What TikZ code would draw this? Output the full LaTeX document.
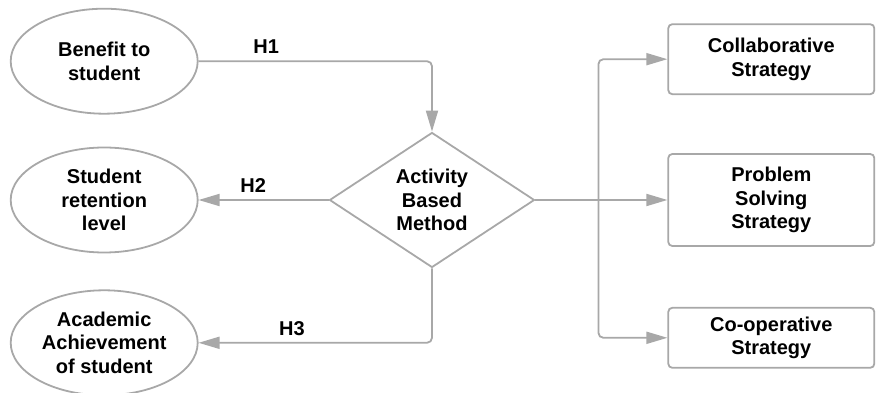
\documentclass[tikz,border=0pt]{standalone}
\usepackage{fontspec}
\setmainfont{Liberation Sans}
\usepackage{tikz}
\usetikzlibrary{shapes.geometric}
\usetikzlibrary{positioning}
\usetikzlibrary{arrows.meta,calc}

\definecolor{linegray}{RGB}{168,168,168}

\begin{document}
\begin{tikzpicture}[%
    x=1pt, y=1pt,
    font=\fontsize{20}{23.5}\selectfont\bfseries,
    >={Triangle[length=21pt,width=12pt]},
    basic/.style={draw=linegray,line width=1.8pt,align=center,inner sep=0pt},
    factor/.style={basic,ellipse,minimum width=187pt,minimum height=105pt},
    method/.style={basic,diamond,aspect=1.5,minimum width=205pt,minimum height=135pt},
    strategy/.style={basic,rectangle,rounded corners=4pt,minimum width=206pt},
    link/.style={draw=linegray,line width=1.8pt,rounded corners=5pt}
]
        \useasboundingbox (-432,-193) rectangle (444,200);

        \node[method] (abm) {Activity\\Based\\Method};

        \node[left = 130pt of abm, factor] (retention) {Student\\retention\\level};
        \node[above = 32pt of retention, factor] (benefit) {Benefit to\\student};
        \node[below = 36pt of retention, factor] (achieve) {Academic\\Achievement\\of student};

        \node[right = 132pt of abm, strategy, minimum height=92pt] (problem) {Problem\\Solving\\Strategy};
        \node[above = 58pt of problem, strategy, minimum height=70pt] (collab) {Collaborative\\Strategy};
        \node[below = 60pt of problem, strategy, minimum height=60pt] (coop) {Co-operative\\Strategy};

        \coordinate[right = 63pt of abm.east] (bus);

        \path [link,->] (benefit.east) -- node[pos=0.29,above=3pt]{H1} (benefit.east -| abm.north) -- (abm.north);
        \path [link,->] (abm.west) -- node[pos=0.58,above=3pt]{H2} (retention.east);
        \path [link,->] (abm.south) -- (abm.south |- achieve.east) -- node[pos=0.6,above=3pt]{H3} (achieve.east);

        \path [link] (abm.east) -- (bus);
        \path [link,->] (bus) |- (collab.west);
        \path [link,->] (bus) -- (problem.west);
        \path [link,->] (bus) |- (coop.west);
\end{tikzpicture}
\end{document}
